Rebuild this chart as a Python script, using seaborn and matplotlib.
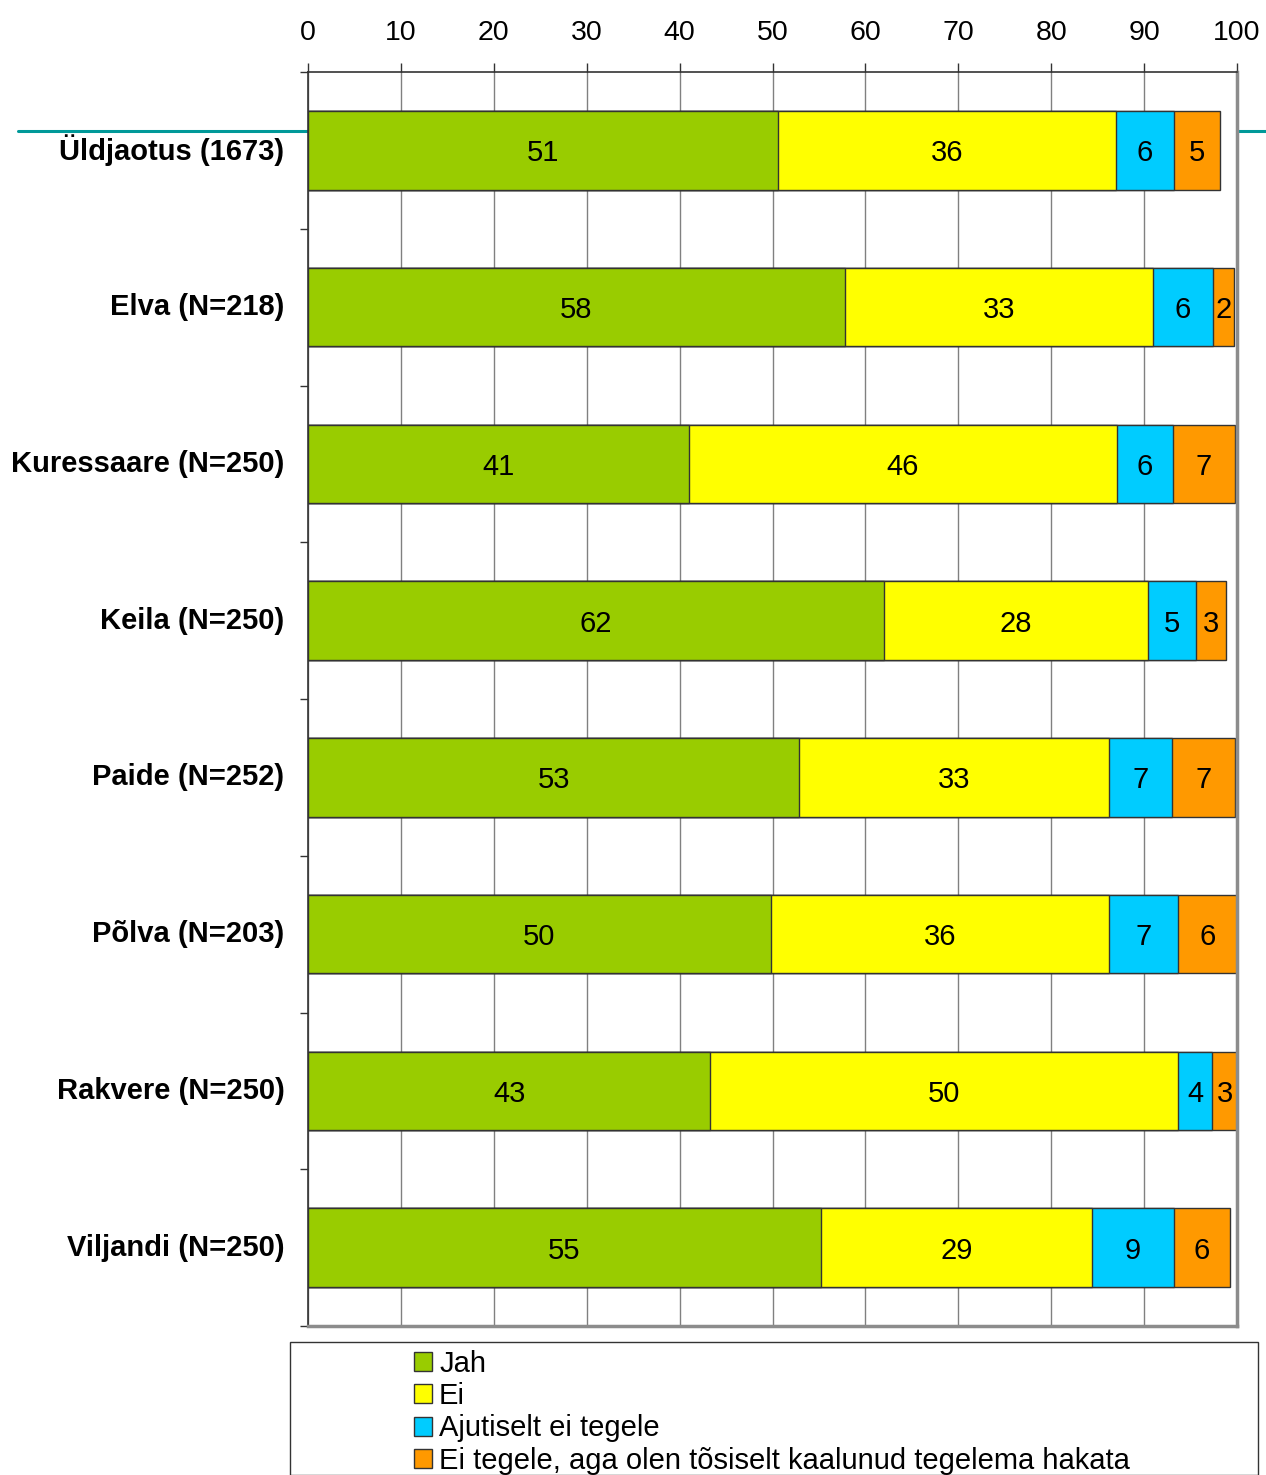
import numpy as np
import pandas as pd
import matplotlib
matplotlib.use("Agg")
import matplotlib.pyplot as plt
from matplotlib.patches import Patch, Rectangle
from matplotlib.lines import Line2D
from matplotlib.ticker import FixedLocator
import seaborn as sns

categories = ["Üldjaotus (1673)", "Elva (N=218)", "Kuressaare (N=250)", "Keila (N=250)",
              "Paide (N=252)", "Põlva (N=203)", "Rakvere (N=250)", "Viljandi (N=250)"]
series_names = ["Jah", "Ei", "Ajutiselt ei tegele", "Ei tegele, aga olen tõsiselt kaalunud tegelema hakata"]
jah = [50.6, 57.8, 41.0, 62.0, 52.9, 49.8, 43.3, 55.2]
ei = [36.4, 33.2, 46.1, 28.4, 33.3, 36.4, 50.4, 29.2]
ajut = [6.2, 6.4, 6.0, 5.2, 6.8, 7.4, 3.6, 8.8]
kaalunud = [5.0, 2.3, 6.7, 3.2, 6.8, 6.4, 2.8, 6.0]
label_jah = [51, 58, 41, 62, 53, 50, 43, 55]
label_ei = [36, 33, 46, 28, 33, 36, 50, 29]
label_ajut = [6, 6, 6, 5, 7, 7, 4, 9]
label_kaalunud = [5, 2, 7, 3, 7, 6, 3, 6]
x_ticks = [0, 10, 20, 30, 40, 50, 60, 70, 80, 90, 100]

colors = ["#99CC00", "#FFFF00", "#00CCFF", "#FF9900"]

sns.set_theme(style="white")
plt.rcParams['font.family'] = ['Liberation Sans', 'DejaVu Sans']
plt.rcParams['text.color'] = 'black'
plt.rcParams['xtick.color'] = 'black'
plt.rcParams['ytick.color'] = 'black'

W, H = 1266, 1475
fig = plt.figure(figsize=(W / 100, H / 100), dpi=100)
ax = fig.add_axes([308 / W, 1 - 1326 / H, (1237 - 308) / W, (1326 - 72) / H])
ax.set_zorder(1)

series = [jah, ei, ajut, kaalunud]
labels = [label_jah, label_ei, label_ajut, label_kaalunud]
cums = np.cumsum(np.array(series), axis=0)

df = pd.DataFrame({"cat": categories})
for i in range(3, -1, -1):
    df["v"] = cums[i]
    sns.barplot(data=df, x="v", y="cat", color=colors[i], width=0.5, orient="h",
                edgecolor="#333333", linewidth=1.0, saturation=1, ax=ax, zorder=3)

# bar labels
for i in range(4):
    starts = cums[i] - np.array(series[i])
    for j in range(len(categories)):
        ax.text(starts[j] + series[i][j] / 2, j, str(labels[i][j]), ha="center",
                va="center_baseline", fontsize=21, color="black", zorder=5)

ax.set_xlim(0, 100)
ax.set_ylim(7.5, -0.5)
ax.set_xlabel("")
ax.set_ylabel("")
ax.xaxis.tick_top()
ax.set_xticks(x_ticks)
ax.set_xticklabels([str(t) for t in x_ticks], fontsize=20.5)
ax.tick_params(axis="x", which="major", direction="out", length=6.5, width=1,
               color="#333333", pad=12, labelcolor="black")
ax.grid(axis="x", color="#808080", linewidth=1, zorder=0)
ax.set_axisbelow(True)

ax.set_yticks(range(len(categories)))
ax.set_yticklabels(categories, fontsize=21, fontweight="bold")
for t in ax.get_yticklabels():
    t.set_verticalalignment("center")
ax.tick_params(axis="y", which="major", length=0, pad=17, labelcolor="black")
ax.yaxis.set_minor_locator(FixedLocator(np.arange(-0.5, 8.0, 1.0)))
ax.tick_params(axis="y", which="minor", left=True, direction="out", length=6, width=1, color="#333333")

ax.spines["top"].set_color("#333333")
ax.spines["top"].set_linewidth(1.2)
ax.spines["left"].set_color("#333333")
ax.spines["left"].set_linewidth(1.2)
ax.spines["right"].set_color("#8c8c8c")
ax.spines["right"].set_linewidth(2.5)
ax.spines["bottom"].set_color("#8c8c8c")
ax.spines["bottom"].set_linewidth(2.5)
for s in ax.spines.values():
    s.set_zorder(6)

# teal line behind the plot area
fig.add_artist(Line2D([18 / W, 1.0], [1 - 131 / H, 1 - 131 / H], color="#009999",
                      linewidth=2.2, zorder=0.5))

# legend frame
fig.add_artist(Rectangle((290 / W, 0), (1258 - 290) / W, (H - 1342) / H, transform=fig.transFigure,
                         facecolor="white", edgecolor="#333333", linewidth=1.0, zorder=2))
handles = [Patch(facecolor=c, edgecolor="#333333", linewidth=1.0) for c in colors]
leg = fig.legend(handles, series_names, loc="upper left",
                 bbox_to_anchor=(405 / W, 1 - 1341 / H), frameon=False, fontsize=21,
                 handlelength=0.62, handleheight=0.62, handletextpad=0.25, labelspacing=0.15,
                 borderpad=0.3, borderaxespad=0)
leg.set_zorder(3)

fig.savefig("out.png", dpi=100)
